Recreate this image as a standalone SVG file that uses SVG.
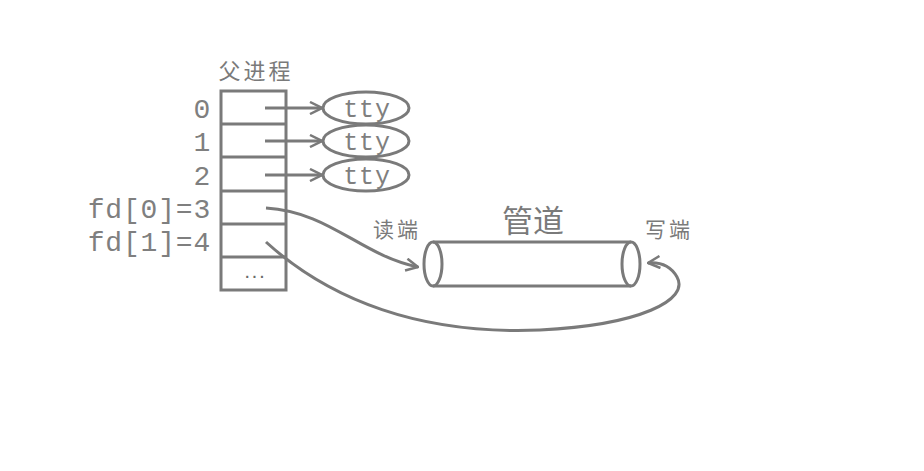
<svg xmlns="http://www.w3.org/2000/svg" width="924" height="471" viewBox="0 0 924 471">
<style>
.s{fill:none;stroke:#7a7a7a;stroke-width:3}
.t{fill:#7f7f7f;font-family:"Liberation Mono","DejaVu Sans Mono",monospace;font-size:28px;letter-spacing:0.8px}
.y{font-size:25px}
.d{font-size:14px;letter-spacing:-1px;font-weight:bold;fill:#6a6a6a}
.c{fill:#7a7a7a;font-family:"Noto Sans CJK SC","Noto Sans",sans-serif}
</style>
<defs>
<marker id="a" viewBox="0 0 14 14" refX="13" refY="7" markerWidth="14" markerHeight="14" markerUnits="userSpaceOnUse" orient="auto">
<path d="M1,1 L13,7 L1,13" fill="none" stroke="#7a7a7a" stroke-width="2.5"/>
</marker>
</defs>
<rect width="924" height="471" fill="#fff"/>
<g id="parent">
<text class="c" x="256" y="79" font-size="22" letter-spacing="3" text-anchor="middle">父进程</text>
<rect class="s" x="221" y="91" width="65" height="199"/>
<line class="s" x1="221" y1="124" x2="286" y2="124"/>
<line class="s" x1="221" y1="157" x2="286" y2="157"/>
<line class="s" x1="221" y1="191" x2="286" y2="191"/>
<line class="s" x1="221" y1="224" x2="286" y2="224"/>
<line class="s" x1="221" y1="257" x2="286" y2="257"/>
<text class="t" x="211" y="118" text-anchor="end">0</text>
<text class="t" x="211" y="151" text-anchor="end">1</text>
<text class="t" x="211" y="185" text-anchor="end">2</text>
<text class="t" x="211" y="218" text-anchor="end">fd[0]=3</text>
<text class="t" x="211" y="251" text-anchor="end">fd[1]=4</text>
<text class="t d" x="254" y="278" text-anchor="middle">...</text>
</g>
<g id="tty0">
<ellipse class="s" cx="366" cy="108" rx="43" ry="16"/>
<text class="t y" x="367" y="117" text-anchor="middle">tty</text>
</g>
<g id="tty1">
<ellipse class="s" cx="366" cy="141" rx="43" ry="16"/>
<text class="t y" x="367" y="150" text-anchor="middle">tty</text>
</g>
<g id="tty2">
<ellipse class="s" cx="366" cy="175" rx="43" ry="16"/>
<text class="t y" x="367" y="184" text-anchor="middle">tty</text>
</g>
<g id="pipe">
<text class="c" x="533" y="232" font-size="31" text-anchor="middle">管道</text>
<text class="c" x="397" y="237" font-size="21" letter-spacing="3" text-anchor="middle">读端</text>
<text class="c" x="669" y="237" font-size="21" letter-spacing="3" text-anchor="middle">写端</text>
<line class="s" x1="433" y1="242" x2="631" y2="242"/>
<line class="s" x1="433" y1="286" x2="631" y2="286"/>
<ellipse class="s" cx="433" cy="264" rx="9" ry="22"/>
<ellipse class="s" cx="631" cy="264" rx="9" ry="22"/>
</g>
<g id="connectors">
<line class="s" x1="265" y1="108" x2="322" y2="108" marker-end="url(#a)"/>
<line class="s" x1="265" y1="141" x2="322" y2="141" marker-end="url(#a)"/>
<line class="s" x1="265" y1="175" x2="322" y2="175" marker-end="url(#a)"/>
<path class="s" d="M266,208 C330,212 360,255 418,267" marker-end="url(#a)"/>
<path class="s" d="M266,242 C330,300 420,335 540,330 C640,325 690,300 677,277 C670,265 660,262 648,263" marker-end="url(#a)"/>
</g>
</svg>
